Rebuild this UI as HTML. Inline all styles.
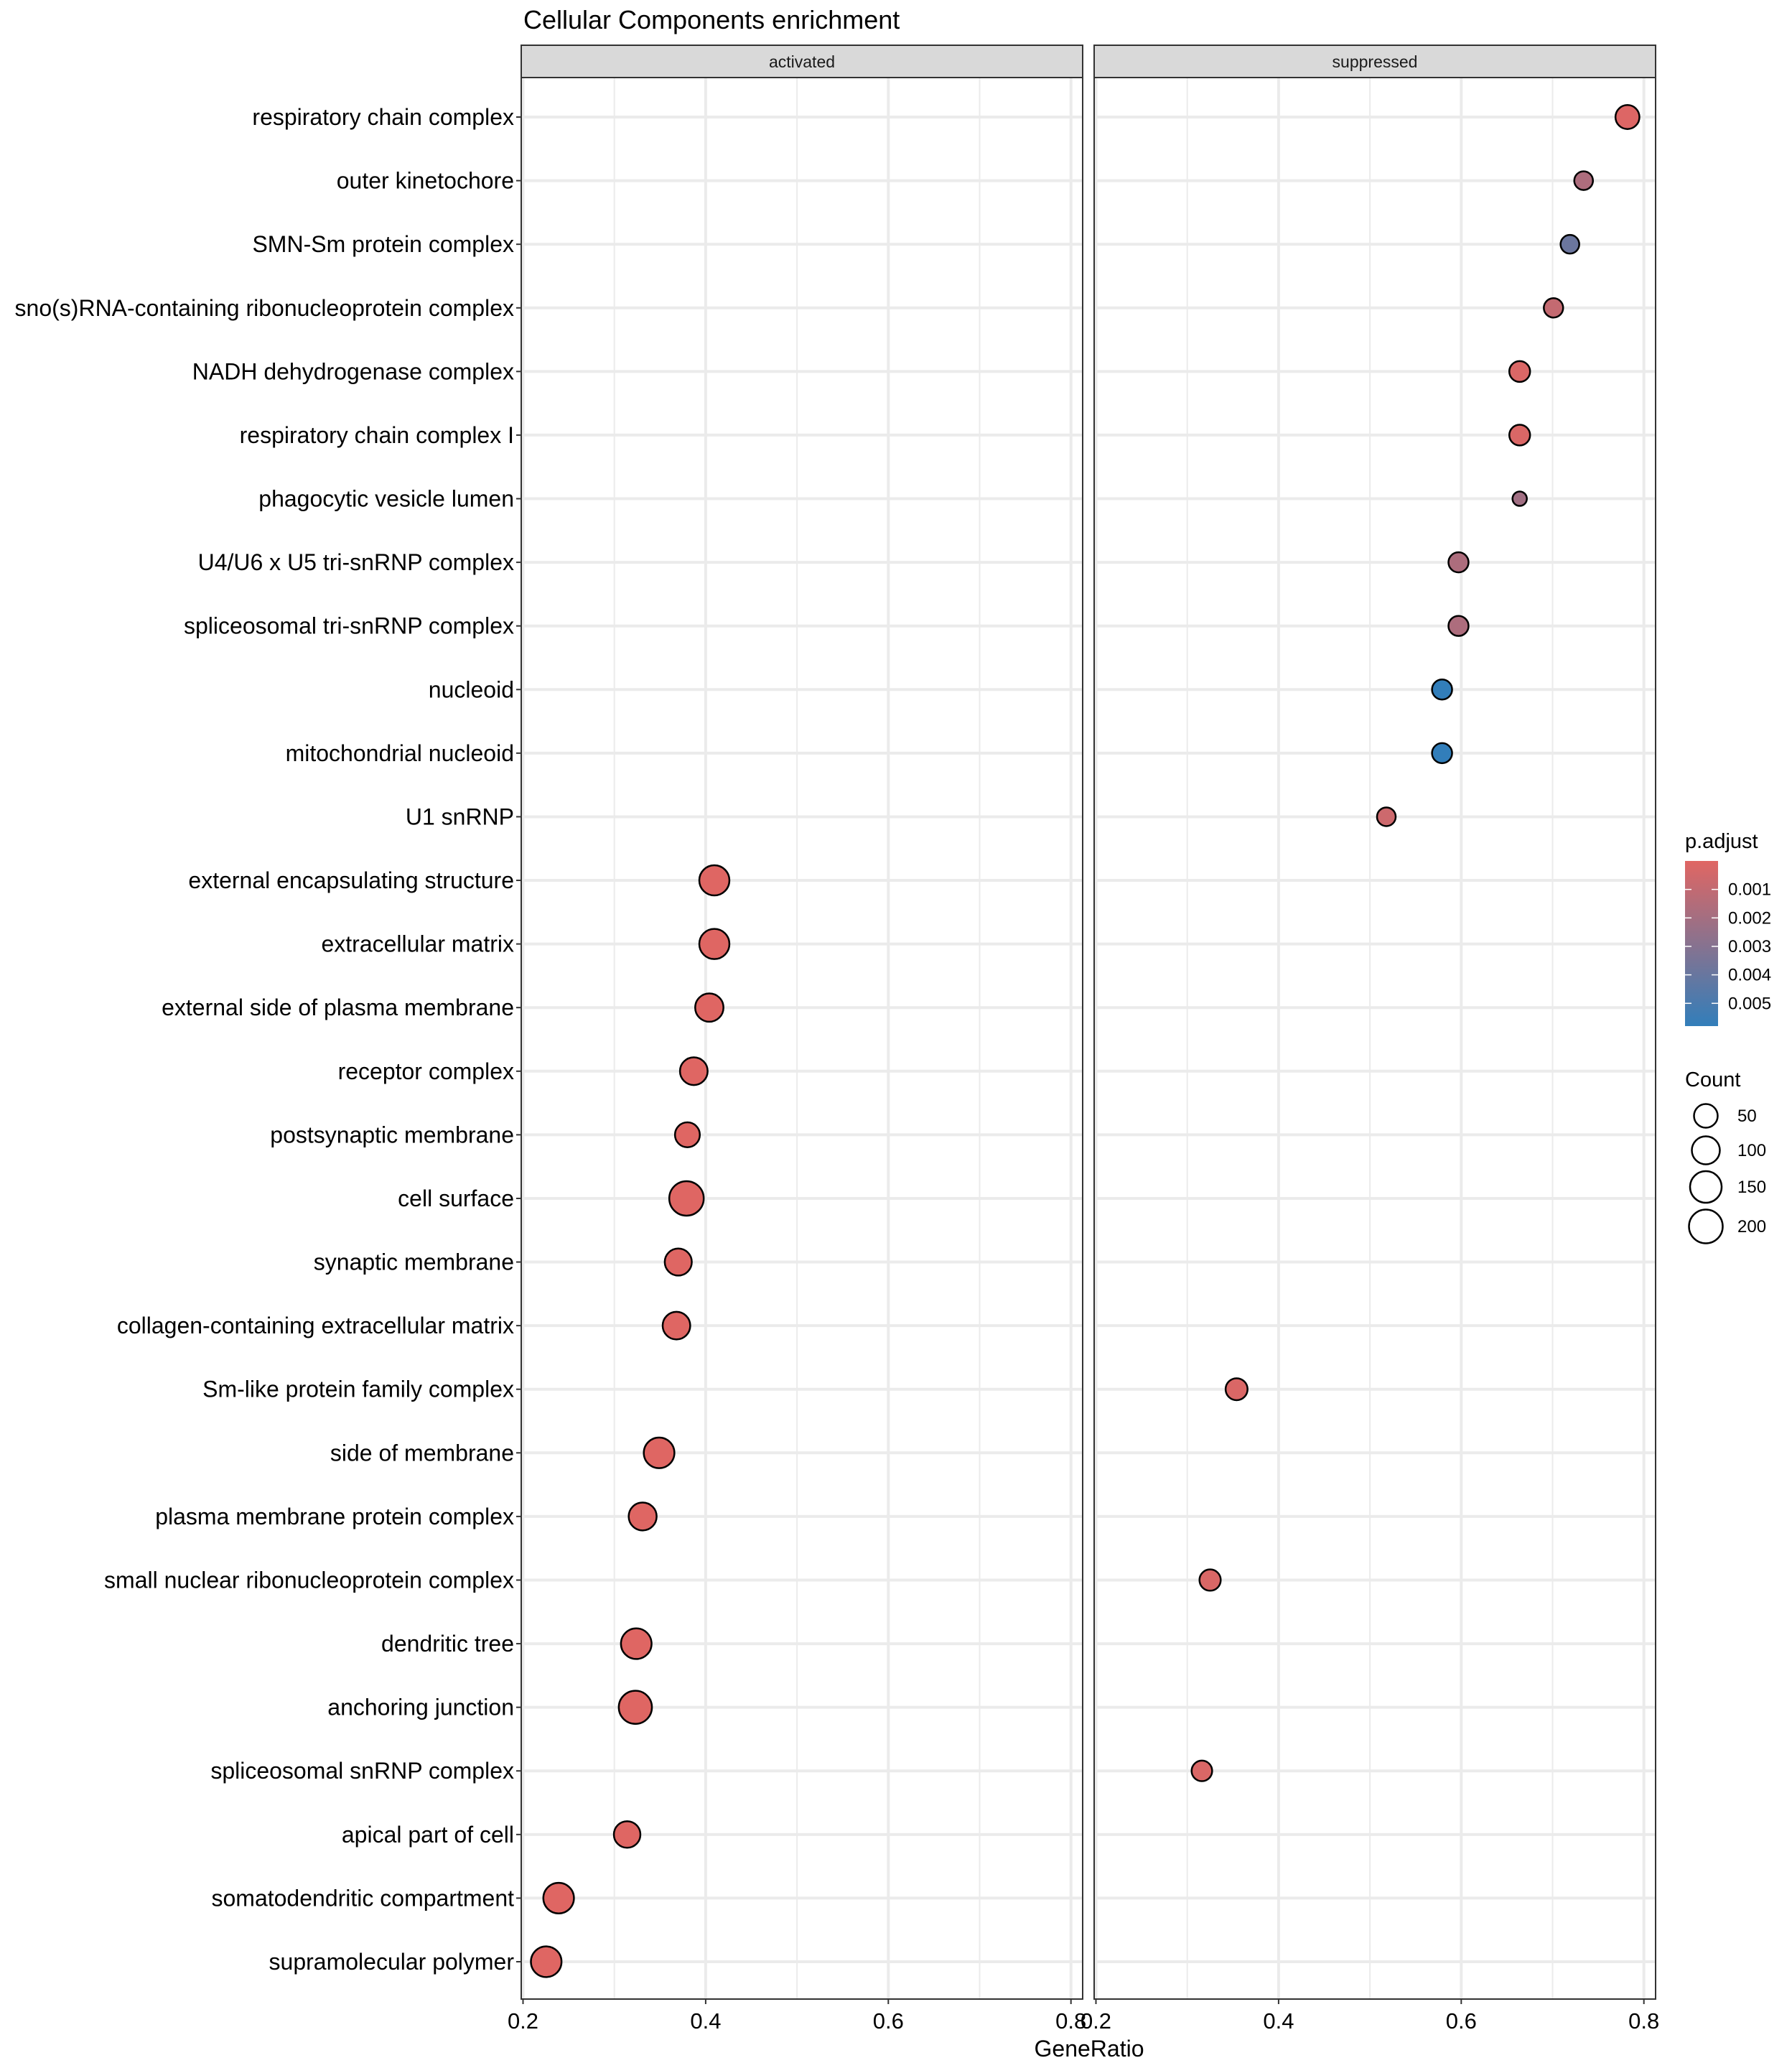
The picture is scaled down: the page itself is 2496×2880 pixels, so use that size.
<!DOCTYPE html>
<html><head><meta charset="utf-8"><style>
html,body{margin:0;padding:0;background:#fff;}
svg{display:block;font-family:"Liberation Sans",Arial,sans-serif;}
</style></head><body>
<svg id="chart" xmlns="http://www.w3.org/2000/svg" width="2496" height="2880" viewBox="0 0 2496 2880">
<rect x="0" y="0" width="2496" height="2880" fill="#fff"/>
<text x="729" y="40" font-size="36" fill="#000">Cellular Components enrichment</text>
<g id="panels"></g>
<g id="legend"></g>
</svg>
<script>
const categories = ["respiratory chain complex","outer kinetochore","SMN-Sm protein complex","sno(s)RNA-containing ribonucleoprotein complex","NADH dehydrogenase complex","respiratory chain complex I","phagocytic vesicle lumen","U4/U6 x U5 tri-snRNP complex","spliceosomal tri-snRNP complex","nucleoid","mitochondrial nucleoid","U1 snRNP","external encapsulating structure","extracellular matrix","external side of plasma membrane","receptor complex","postsynaptic membrane","cell surface","synaptic membrane","collagen-containing extracellular matrix","Sm-like protein family complex","side of membrane","plasma membrane protein complex","small nuclear ribonucleoprotein complex","dendritic tree","anchoring junction","spliceosomal snRNP complex","apical part of cell","somatodendritic compartment","supramolecular polymer"];
const panelNames = ["activated","suppressed"];
// activated series
const actCategory = ["external encapsulating structure","extracellular matrix","external side of plasma membrane","receptor complex","postsynaptic membrane","cell surface","synaptic membrane","collagen-containing extracellular matrix","side of membrane","plasma membrane protein complex","dendritic tree","anchoring junction","apical part of cell","somatodendritic compartment","supramolecular polymer"];
const actRatio = [0.4095,0.4095,0.404,0.387,0.380,0.379,0.370,0.368,0.349,0.331,0.324,0.323,0.314,0.239,0.2254];
const actCount = [148,148,126,119,89,205,112,118,154,122,154,187,106,154,154];
const actPadj = [0.00002,0.00002,0.00002,0.00002,0.00002,0.00002,0.00002,0.00002,0.00002,0.00002,0.00002,0.00002,0.00002,0.00002,0.00002];
// suppressed series
const supCategory = ["respiratory chain complex","outer kinetochore","SMN-Sm protein complex","sno(s)RNA-containing ribonucleoprotein complex","NADH dehydrogenase complex","respiratory chain complex I","phagocytic vesicle lumen","U4/U6 x U5 tri-snRNP complex","spliceosomal tri-snRNP complex","nucleoid","mitochondrial nucleoid","U1 snRNP","Sm-like protein family complex","small nuclear ribonucleoprotein complex","spliceosomal snRNP complex"];
const supRatio = [0.782,0.734,0.719,0.701,0.664,0.664,0.664,0.597,0.597,0.579,0.579,0.518,0.354,0.325,0.316];
const supCount = [80,34,34,39,51,51,5,45,45,45,45,34,61,55,49];
const supPadj = [0.0001,0.0017,0.0039,0.00094,0.0002,0.0002,0.0021,0.0017,0.0017,0.0058,0.0058,0.00064,0.0002,0.0002,0.0002];
const xTicks = [0.2,0.4,0.6,0.8];
const xTickLabels = ["0.2","0.4","0.6","0.8"];
const xMinor = [0.3,0.5,0.7];
const colorTicks = [0.001,0.002,0.003,0.004,0.005];
const colorTickLabels = ["0.001","0.002","0.003","0.004","0.005"];
const sizeBreaks = [50,100,150,200];
const sizeLabels = ["50","100","150","200"];

const NS="http://www.w3.org/2000/svg";
function mk(tag,attrs,parent){const e=document.createElementNS(NS,tag);for(const k in attrs)e.setAttribute(k,attrs[k]);parent.appendChild(e);return e;}
const panelLeft=[726,1524], panelW=782, panelTop=108, panelBot=2784;
const pMin=0, pMax=0.0058;
function xScale(p,v){return panelLeft[p]+2.5+(v-0.2)*1272;}
function yScale(cat){const i=categories.indexOf(cat);return 163+i*(2732-163)/29;}
function rScale(c){return Math.sqrt(100+2.38*(c-5));}
function colorScale(p){const t=Math.max(0,Math.min(1,(p-pMin)/(pMax-pMin)));const a=[224,102,99],b=[50,126,186];return "rgb("+a.map((v,i)=>Math.round(v+(b[i]-v)*t)).join(",")+")";}

const panels=document.getElementById('panels');
const series=[[actCategory,actRatio,actCount,actPadj],[supCategory,supRatio,supCount,supPadj]];
for(let p=0;p<2;p++){
  const g=mk('g',{},panels);
  
  
  const L=panelLeft[p];
  const strip=mk('rect',{x:L,y:63,width:panelW,height:45,fill:'#d9d9d9',stroke:'#333',"stroke-width":2},g);
  
  
  const st=mk('text',{x:L+panelW/2,y:94,"font-size":23,"text-anchor":"middle",fill:'#1a1a1a'},g);
  st.textContent=panelNames[p];
  
  
  xMinor.forEach(v=>{const l=mk('line',{x1:xScale(p,v),x2:xScale(p,v),y1:panelTop,y2:panelBot,stroke:'#ebebeb',"stroke-width":2},g);
    
    });
  xTicks.forEach(v=>{const l=mk('line',{x1:xScale(p,v),x2:xScale(p,v),y1:panelTop,y2:panelBot,stroke:'#ebebeb',"stroke-width":4},g);
    
    });
  categories.forEach(c=>{const y=yScale(c);const l=mk('line',{x1:L,x2:L+panelW,y1:y,y2:y,stroke:'#ebebeb',"stroke-width":4},g);
    
    });
  const [cats,rat,cnt,pad]=series[p];
  cats.forEach((c,i)=>{const d=mk('circle',{cx:xScale(p,rat[i]),cy:yScale(c),r:rScale(cnt[i]),fill:colorScale(pad[i]),stroke:'#000',"stroke-width":2.5},g);
    
    });
  const b=mk('rect',{x:L,y:panelTop,width:panelW,height:panelBot-panelTop,fill:'none',stroke:'#333',"stroke-width":2},g);
  
  
  xTicks.forEach((v,i)=>{const x=xScale(p,v);
    const t=mk('line',{x1:x,x2:x,y1:panelBot,y2:panelBot+7,stroke:'#333',"stroke-width":2},g);
    
    
    const tl=mk('text',{x:x,y:2825,"font-size":31,"text-anchor":"middle",fill:'#000'},g);
    tl.textContent=xTickLabels[i];
    
    });
}
categories.forEach(c=>{const y=yScale(c);
  const t=mk('line',{x1:719,x2:726,y1:y,y2:y,stroke:'#333',"stroke-width":2},panels);
  
  
  const tl=mk('text',{x:716,y:y+11,"font-size":32,"text-anchor":"end",fill:'#000'},panels);
  tl.textContent=c;
  
  });
const xt=mk('text',{x:1517,y:2864,"font-size":32,"text-anchor":"middle",fill:'#000'},panels);
xt.textContent='GeneRatio';



// legend
const lg=document.getElementById('legend');
const defs=mk('defs',{},lg);
const grad=mk('linearGradient',{id:'cg',x1:0,y1:0,x2:0,y2:1},defs);
mk('stop',{offset:'0',"stop-color":colorScale(pMin)},grad);
mk('stop',{offset:'1',"stop-color":colorScale(pMax)},grad);
const pt=mk('text',{x:2347,y:1181,"font-size":29,fill:'#000'},lg);
pt.textContent='p.adjust';


const cbTop=1199, cbBot=1429;
const cb=mk('rect',{x:2347,y:cbTop,width:46,height:cbBot-cbTop,fill:'url(#cg)'},lg);


function cbY(v){return cbTop+(v-pMin)/(pMax-pMin)*(cbBot-cbTop);}
colorTicks.forEach((v,i)=>{const y=cbY(v);
  const a=mk('line',{x1:2347,x2:2356,y1:y,y2:y,stroke:'#fff',"stroke-width":1.5},lg);
  
  
  const b=mk('line',{x1:2384,x2:2393,y1:y,y2:y,stroke:'#fff',"stroke-width":1.5},lg);
  
  
  const t=mk('text',{x:2407,y:y+8,"font-size":24,fill:'#000'},lg);
  t.textContent=colorTickLabels[i];
  
  });
const ct=mk('text',{x:2347,y:1513,"font-size":29,fill:'#000'},lg);
ct.textContent='Count';


const sizeY=[1554,1602,1653,1708];
const legendR=[16.5,19.5,22,23.5];
sizeBreaks.forEach((v,i)=>{
  const c=mk('circle',{cx:2376,cy:sizeY[i],r:legendR[i],fill:'none',stroke:'#000',"stroke-width":2.5},lg);
  
  
  const t=mk('text',{x:2420,y:sizeY[i]+8,"font-size":24,fill:'#000'},lg);
  t.textContent=sizeLabels[i];
  
  });
</script>
</body></html>
